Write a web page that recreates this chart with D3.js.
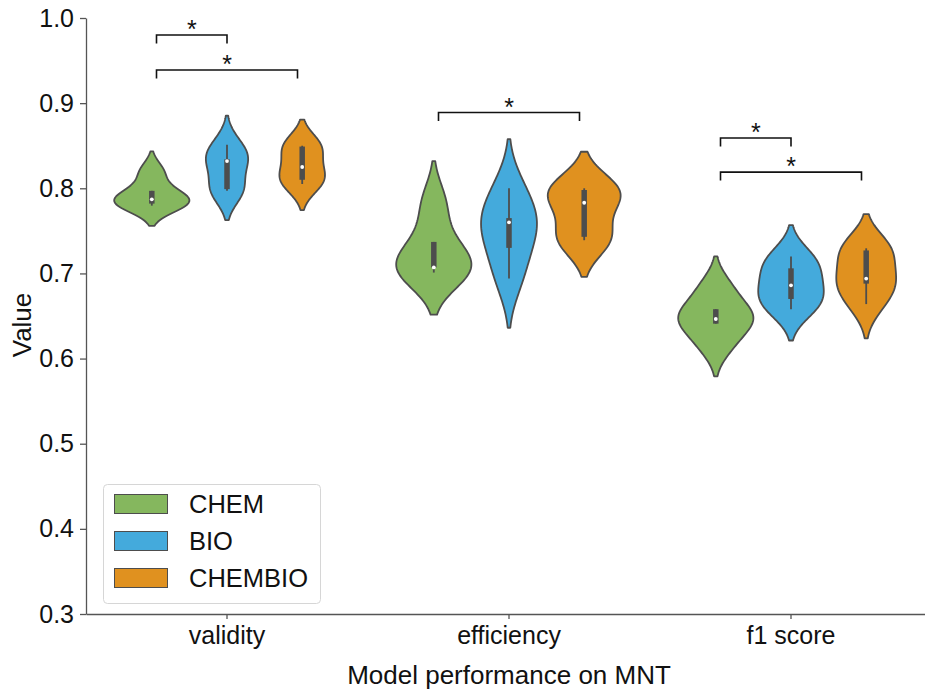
<!DOCTYPE html>
<html>
<head>
<meta charset="utf-8">
<script src="https://cdn.jsdelivr.net/npm/d3@7"></script>
<style>
  body { margin: 0; background: #fff; }
  svg { display: block; }
  text { font-family: Arial, "Liberation Sans", sans-serif; }
</style>
</head>
<body>
<svg id="chart" width="925" height="694"></svg>
<script>
// Metrics on the x axis and the three model variants (hue)
const categories = ["validity", "efficiency", "f1 score"];
const models = ["CHEM", "BIO", "CHEMBIO"];
const modelColors = ["#85b75e", "#44aadc", "#e0911f"];

// Per-run scores (5 runs), one array per metric in category order
const chemScores = [
  [0.7796, 0.782, 0.787, 0.797, 0.8197],
  [0.701, 0.707, 0.707, 0.737, 0.7825],
  [0.6153, 0.641, 0.6465, 0.658, 0.6838]
];
const bioScores = [
  [0.797, 0.799, 0.832, 0.834, 0.851],
  [0.694, 0.730, 0.760, 0.765, 0.800],
  [0.658, 0.670, 0.686, 0.706, 0.720]
];
const chembioScores = [
  [0.805, 0.810, 0.825, 0.849, 0.850],
  [0.739, 0.743, 0.783, 0.798, 0.800],
  [0.664, 0.688, 0.694, 0.727, 0.7295]
];

const yTicks = [0.3, 0.4, 0.5, 0.6, 0.7, 0.8, 0.9, 1.0];

// Significance brackets: metric index, start/end hue offset, bracket height, label
const sigMetric = [0, 0, 1, 2, 2];
const sigFrom = [-0.25, -0.25, -0.25, -0.25, -0.25];
const sigTo = [0, 0.25, 0.25, 0, 0.25];
const sigLevel = [0.98, 0.939, 0.889, 0.859, 0.819];
const sigLabel = ["*", "*", "*", "*", "*"];

const allScores = [chemScores, bioScores, chembioScores];

const svg = d3.select("#chart");

const x = d3.scaleBand().domain(categories).range([86, 932]).padding(0);
const y = d3.scaleLinear().domain([0.3, 1.0]).range([614, 18]);
const unit = x.bandwidth();            // one category step
const hueStep = 0.8 / models.length * unit;
const halfMax = hueStep / 2;

const edgeGray = "#4d4d4d";
const tickFont = 25, labelFont = 26, legendFont = 25.5;

// Gaussian KDE, Scott bandwidth, support cut at 2 bandwidths
function kde(values) {
  const n = values.length;
  const sd = d3.deviation(values);
  const bw = sd * Math.pow(n, -1 / 5);
  const lo = d3.min(values) - 2 * bw, hi = d3.max(values) + 2 * bw;
  const k = 1 / (bw * Math.sqrt(2 * Math.PI));
  return d3.range(100).map(i => {
    const v = lo + (hi - lo) * i / 99;
    return [v, k * d3.mean(values, s => Math.exp(-0.5 * ((v - s) / bw) ** 2))];
  });
}

// Axes
const yAxis = svg.append("g")
  .attr("transform", "translate(86,0)")
  .call(d3.axisLeft(y).tickValues(yTicks).tickFormat(d3.format(".1f"))
    .tickSize(6).tickSizeOuter(0).tickPadding(6));
yAxis.select(".domain").attr("stroke", "#555").attr("stroke-width", 1.3);
yAxis.selectAll(".tick line").attr("stroke", "#555").attr("stroke-width", 1.3);
yAxis.selectAll(".tick text").attr("font-size", tickFont).attr("fill", "#111")
  .style("font-family", "Arial, 'Liberation Sans', sans-serif");

const xAxis = svg.append("g")
  .attr("transform", "translate(0,614)")
  .call(d3.axisBottom(x).tickSize(5).tickSizeOuter(0).tickPadding(7));
xAxis.select(".domain").attr("stroke", "#555").attr("stroke-width", 1.3);
xAxis.selectAll(".tick line").attr("stroke", "#555").attr("stroke-width", 1.3);
xAxis.selectAll(".tick text").attr("font-size", tickFont).attr("fill", "#111")
  .style("font-family", "Arial, 'Liberation Sans', sans-serif");

svg.append("text")
  .attr("x", 509).attr("y", 684)
  .attr("text-anchor", "middle").attr("font-size", labelFont).attr("fill", "#111")
  .text("Model performance on MNT");

svg.append("text")
  .attr("transform", "translate(31,325) rotate(-90)")
  .attr("text-anchor", "middle").attr("font-size", labelFont).attr("fill", "#111")
  .text("Value");

// Violins, scaled so the widest violin of each metric fills its slot
const plot = svg.append("g");
categories.forEach((cat, ci) => {
  const dens = allScores.map(s => kde(s[ci]));
  const maxD = d3.max(dens, d => d3.max(d, p => p[1]));
  models.forEach((m, mi) => {
    const cx = x(cat) + unit / 2 + (mi - 1) * hueStep;
    const area = d3.area()
      .y(p => y(p[0]))
      .x0(p => cx - p[1] / maxD * halfMax)
      .x1(p => cx + p[1] / maxD * halfMax);
    plot.append("path")
      .attr("d", area(dens[mi]))
      .attr("fill", modelColors[mi])
      .attr("stroke", edgeGray)
      .attr("stroke-width", 1.8)
      .attr("stroke-linejoin", "round");

    // inner box: whiskers, interquartile bar, median dot
    const vals = allScores[mi][ci].slice().sort(d3.ascending);
    const q1 = d3.quantile(vals, 0.25), q2 = d3.quantile(vals, 0.5), q3 = d3.quantile(vals, 0.75);
    const lim = 1.5 * (q3 - q1);
    const lo = d3.min(vals.filter(v => v >= q1 - lim));
    const hi = d3.max(vals.filter(v => v <= q3 + lim));
    plot.append("line")
      .attr("x1", cx).attr("x2", cx).attr("y1", y(lo)).attr("y2", y(hi))
      .attr("stroke", edgeGray).attr("stroke-width", 1.8);
    plot.append("line")
      .attr("x1", cx).attr("x2", cx).attr("y1", y(q1)).attr("y2", y(q3))
      .attr("stroke", edgeGray).attr("stroke-width", 5.5);
    plot.append("circle")
      .attr("cx", cx).attr("cy", y(q2)).attr("r", 1.9)
      .attr("fill", "#fff");
  });
});

// Significance brackets
sigMetric.forEach((ci, i) => {
  const c = x(categories[ci]) + unit / 2;
  const x1 = c + sigFrom[i] * unit, x2 = c + sigTo[i] * unit;
  const yl = y(sigLevel[i]), yt = y(sigLevel[i] - 0.01);
  svg.append("path")
    .attr("d", `M${x1},${yt}L${x1},${yl}L${x2},${yl}L${x2},${yt}`)
    .attr("fill", "none").attr("stroke", "#111").attr("stroke-width", 1.6);
  svg.append("text")
    .attr("x", (x1 + x2) / 2).attr("y", yl + 3)
    .attr("text-anchor", "middle").attr("font-size", tickFont).attr("fill", "#111")
    .text(sigLabel[i]);
});

// Legend
const legend = svg.append("g");
legend.append("rect")
  .attr("x", 103.5).attr("y", 484.5).attr("width", 217).attr("height", 119)
  .attr("rx", 4).attr("fill", "#fff").attr("fill-opacity", 0.8)
  .attr("stroke", "#d6d6d6").attr("stroke-width", 1);
models.forEach((m, i) => {
  const yy = 494 + i * 37;
  legend.append("rect")
    .attr("x", 114.5).attr("y", yy + 0.5).attr("width", 53).attr("height", 19)
    .attr("fill", modelColors[i]).attr("stroke", edgeGray).attr("stroke-width", 1);
  legend.append("text")
    .attr("x", 189).attr("y", yy + 19)
    .attr("font-size", legendFont).attr("fill", "#111")
    .text(m);
});
</script>
</body>
</html>
